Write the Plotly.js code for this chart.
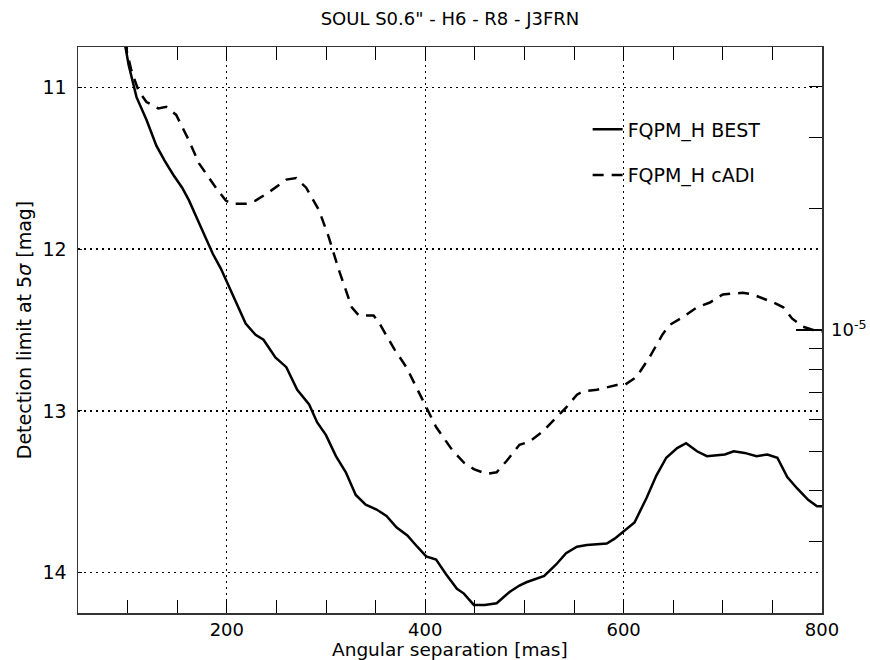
<!DOCTYPE html>
<html>
<head>
<meta charset="utf-8">
<script src="https://cdn.plot.ly/plotly-3.0.1.min.js"></script>
<style>html,body{margin:0;padding:0;background:#fff;}#chart{width:870px;height:660px;}</style>
</head>
<body>
<div id="chart"></div>
<script>
// Angular separation [mas] and detection limit [mag]
const sepBest = [97,101,105,109,119,129,137,146,155,162,170,179,186,194,199,209,219,229,237,249,260,271,283,291,300,310,320,330,340,351,361,371,382,392,401,411,421,432,439,449,460,472,485,495,502,520,532,542,553,563,583,591,599,611,623,633,643,654,663,674,684,702,711,722,734,745,755,765,775,786,795,800];
const magBest = [10.72,10.86,10.96,11.06,11.20,11.36,11.45,11.54,11.62,11.70,11.81,11.94,12.03,12.12,12.19,12.33,12.46,12.53,12.56,12.67,12.73,12.87,12.96,13.07,13.15,13.28,13.38,13.52,13.58,13.61,13.65,13.72,13.77,13.84,13.90,13.92,14.01,14.10,14.13,14.20,14.20,14.19,14.12,14.08,14.06,14.02,13.95,13.88,13.84,13.83,13.82,13.79,13.75,13.69,13.54,13.40,13.29,13.23,13.20,13.25,13.28,13.27,13.25,13.26,13.28,13.27,13.29,13.41,13.48,13.55,13.59,13.59];

const sepCadi = [97,104,111,119,131,139,149,162,172,182,189,199,205,219,229,242,253,260,270,280,293,303,313,321,326,333,348,353,369,381,391,401,411,427,439,449,462,472,482,495,505,518,532,542,553,559,573,593,601,613,626,639,646,660,674,687,700,720,730,751,761,770,781,791,800];
const magCadi = [10.72,10.90,11.02,11.09,11.13,11.12,11.17,11.33,11.47,11.56,11.62,11.70,11.72,11.72,11.70,11.65,11.60,11.57,11.56,11.62,11.76,11.93,12.13,12.28,12.36,12.41,12.41,12.45,12.62,12.73,12.85,12.98,13.10,13.24,13.32,13.36,13.39,13.38,13.31,13.21,13.19,13.13,13.04,12.98,12.90,12.88,12.87,12.84,12.84,12.79,12.67,12.53,12.47,12.42,12.36,12.33,12.28,12.27,12.28,12.33,12.36,12.43,12.48,12.50,12.51];

const seriesNames = ['FQPM_H BEST', 'FQPM_H cADI'];
const xTickVals = [200, 400, 600, 800];
const yTickVals = [11, 12, 13, 14];
// contrast ticks on the right axis
const contrastMajor = [1e-5];
const contrastMajorText = ['10<sup>-5</sup>'];
const contrastMinor = [2e-6,3e-6,4e-6,5e-6,6e-6,7e-6,8e-6,9e-6,2e-5,3e-5,4e-5,5e-5];

const toMag = c => -2.5 * Math.log10(c);
const FONT = 'DejaVu Sans';
const yRange = [14.25, 10.75];

const traces = [
  {x: sepBest, y: magBest, name: seriesNames[0], mode: 'lines', type: 'scatter',
   line: {color: '#000', width: 2.5}, legendgroup: 'a'},
  {x: sepCadi, y: magCadi, name: seriesNames[1], mode: 'lines', type: 'scatter',
   line: {color: '#000', width: 2.5, dash: '11px,8px'}, legendgroup: 'b'},
  {x: [sepBest[0]], y: [magBest[0]], yaxis: 'y2', mode: 'markers', marker: {opacity: 0}, showlegend: false, hoverinfo: 'skip'}
];

const layout = {
  width: 870, height: 660,
  margin: {l: 78, r: 48, t: 47, b: 47},
  paper_bgcolor: '#fff', plot_bgcolor: '#fff',
  font: {family: FONT, size: 19, color: '#000'},
  title: {text: 'SOUL S0.6" - H6 - R8 - J3FRN', font: {family: FONT, size: 18, color: '#000'},
          x: 450/870, xanchor: 'center', y: 1 - 19/660, yanchor: 'middle'},
  showlegend: true,
  legend: {x: 0.685, y: 0.888, xanchor: 'left', yanchor: 'top', bgcolor: 'rgba(0,0,0,0)',
           font: {family: FONT, size: 19, color: '#000'}, traceorder: 'grouped', tracegroupgap: 18},
  annotations: [{
    text: 'Angular separation [mas]', xref: 'paper', yref: 'paper',
    x: 0.5, xanchor: 'center', y: -(660 - 613) / 566, yanchor: 'bottom', yshift: -1, borderpad: 0,
    showarrow: false, font: {family: FONT, size: 18.5, color: '#000'}
  }],
  xaxis: {
    range: [50, 800], tickmode: 'array', tickvals: xTickVals,
    ticks: 'inside', ticklen: 13, tickwidth: 1, tickcolor: '#000',
    showline: true, linecolor: '#333', linewidth: 1.5, mirror: 'ticks',
    showgrid: true, gridcolor: '#000', gridwidth: 1.3, griddash: '2px,4px',
    zeroline: false, tickfont: {family: FONT, size: 18}, ticklabelstandoff: 0,
    minor: {dtick: 50, tick0: 0, ticks: 'inside', ticklen: 13, tickcolor: '#000', tickwidth: 1, showgrid: false}
  },
  yaxis: {
    range: yRange, tickmode: 'array', tickvals: yTickVals,
    ticks: 'inside', ticklen: 4, tickwidth: 1, tickcolor: '#000',
    showline: true, linecolor: '#333', linewidth: 1.5, mirror: true,
    showgrid: true, gridcolor: '#000', gridwidth: 1.3, griddash: '2px,4px',
    zeroline: false, tickfont: {family: FONT, size: 19}, ticklabelstandoff: 6,
    title: {text: 'Detection limit at 5<i>σ</i> [mag]', font: {family: FONT, size: 19}, standoff: 6}
  },
  yaxis2: {
    overlaying: 'y', side: 'right', range: yRange,
    tickmode: 'array', tickvals: contrastMajor.map(toMag), ticktext: contrastMajorText,
    ticks: 'inside', ticklen: 26, tickwidth: 1.2, tickcolor: '#000',
    showgrid: false, zeroline: false, showline: false,
    tickfont: {family: FONT, size: 18}, ticklabelstandoff: 8,
    minor: {tickmode: 'array', tickvals: contrastMinor.map(toMag), ticks: 'inside', ticklen: 13, tickcolor: '#000', tickwidth: 1.2, showgrid: false}
  }
};

Plotly.newPlot('chart', traces, layout, {displayModeBar: false, staticPlot: true});
</script>
</body>
</html>
